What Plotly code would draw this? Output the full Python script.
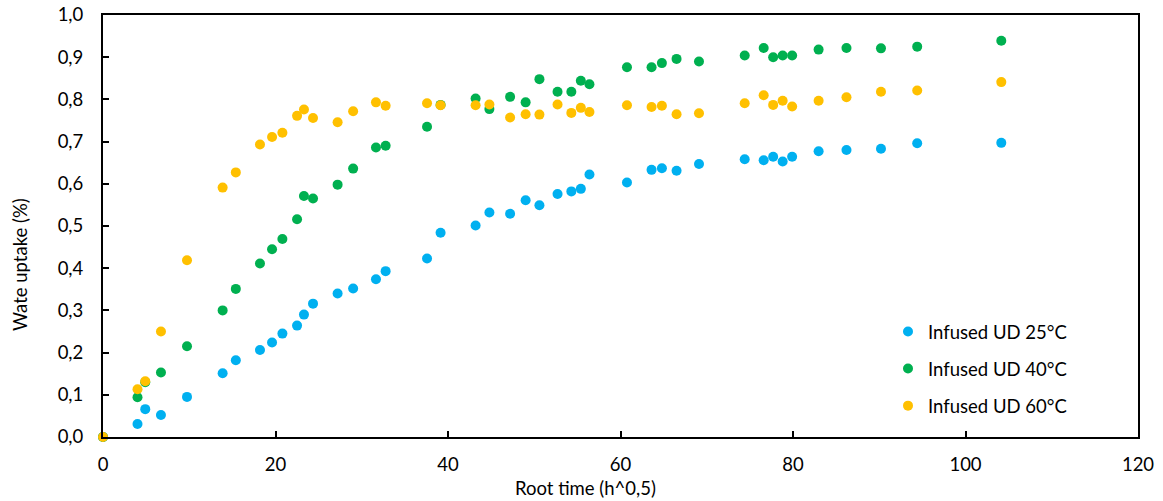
import plotly.graph_objects as go

root_time = [0, 4.0, 4.9, 6.72, 9.74, 13.87, 15.4, 18.2, 19.6, 20.8, 22.5, 23.3, 24.35,
             27.2, 29.0, 31.65, 32.77, 37.57, 39.14, 43.2, 44.8, 47.2, 49.0, 50.6, 52.7,
             54.3, 55.4, 56.4, 60.75, 63.6, 64.8, 66.5, 69.1, 74.4, 76.6, 77.7, 78.8,
             79.9, 82.97, 86.2, 90.2, 94.4, 104.15]

uptake_25 = [0, 0.031, 0.066, 0.052, 0.095, 0.151, 0.182, 0.206, 0.224, 0.245, 0.264, 0.29, 0.316,
             0.34, 0.352, 0.374, 0.393, 0.423, 0.484, 0.501, 0.532, 0.529, 0.561, 0.549, 0.576,
             0.582, 0.588, 0.622, 0.603, 0.633, 0.637, 0.631, 0.647, 0.658, 0.656, 0.664, 0.653,
             0.664, 0.677, 0.680, 0.683, 0.696, 0.697]

uptake_40 = [0, 0.094, 0.13, 0.153, 0.215, 0.30, 0.351, 0.411, 0.445, 0.469, 0.516, 0.571, 0.565,
             0.598, 0.636, 0.686, 0.690, 0.735, 0.787, 0.802, 0.777, 0.806, 0.793, 0.848, 0.818,
             0.818, 0.844, 0.836, 0.876, 0.876, 0.886, 0.896, 0.890, 0.904, 0.922, 0.900, 0.904,
             0.904, 0.918, 0.922, 0.921, 0.925, 0.939]

uptake_60 = [0, 0.113, 0.132, 0.250, 0.419, 0.591, 0.627, 0.693, 0.711, 0.721, 0.761, 0.776, 0.756,
             0.746, 0.772, 0.793, 0.785, 0.791, 0.786, 0.786, 0.788, 0.757, 0.765, 0.764, 0.788,
             0.768, 0.780, 0.770, 0.786, 0.782, 0.785, 0.765, 0.767, 0.791, 0.810, 0.787, 0.797,
             0.783, 0.797, 0.805, 0.818, 0.821, 0.841]

series_names = ["Infused UD 25°C", "Infused UD 40°C", "Infused UD 60°C"]
series_colors = ["#00B0F0", "#00B050", "#FFC000"]
series_values = [uptake_25, uptake_40, uptake_60]

FONT = "Lato, Calibri, Carlito, sans-serif"
FS = 18.5

W, H = 1163, 501
ML, MR, MT, MB = 103, 25, 15, 64
PW, PH = W - ML - MR, H - MT - MB
Y0 = H - MB  # pixel row of y = 0


def px_x(p):
    return (p - ML) / PW


def px_y(p):
    return (Y0 - p) / PH


fig = go.Figure()
for i, (name, color, vals) in enumerate(zip(series_names, series_colors, series_values)):
    fig.add_trace(go.Scatter(
        x=root_time, y=vals, mode="markers", name=name,
        legendgroup=f"g{i}",
        marker=dict(color=color, size=10, line=dict(width=0)),
        cliponaxis=False,
    ))

axis_common = dict(
    showgrid=False, zeroline=False, showline=True, linecolor="black", linewidth=2,
    mirror=True, ticks="inside", ticklen=6, tickwidth=1.5, tickcolor="black",
    automargin=False, ticklabeloverflow="allow",
    tickfont=dict(family=FONT, size=FS, color="#000"),
)

fig.update_layout(
    width=W, height=H,
    margin=dict(l=ML, r=MR, t=MT, b=MB, autoexpand=False),
    paper_bgcolor="white", plot_bgcolor="white",
    separators=", ",
    font=dict(family=FONT, size=FS, color="#000"),
    xaxis=dict(range=[0, 120], dtick=20, tick0=0, ticklabelstandoff=10, **axis_common),
    yaxis=dict(range=[0, 1.0], dtick=0.1, tick0=0, tickformat=".1f", ticklabelstandoff=14, **axis_common),
    legend=dict(x=px_x(888), y=px_y(313), xanchor="left", yanchor="top",
                traceorder="grouped", tracegroupgap=10, bgcolor="rgba(0,0,0,0)",
                font=dict(family=FONT, size=FS, color="#000")),
    annotations=[
        dict(text="Root time (h^0,5)", xref="paper", yref="paper",
             x=px_x(585), y=px_y(488), xanchor="center", yanchor="middle",
             showarrow=False, font=dict(family=FONT, size=FS, color="#000")),
        dict(text="Wate uptake (%)", xref="paper", yref="paper",
             x=px_x(20), y=px_y(265), xanchor="center", yanchor="middle",
             textangle=-90, showarrow=False, font=dict(family=FONT, size=FS, color="#000")),
    ],
)

fig.write_html("out.html", config={"displayModeBar": False},
               post_script="document.body.style.margin='0';")
